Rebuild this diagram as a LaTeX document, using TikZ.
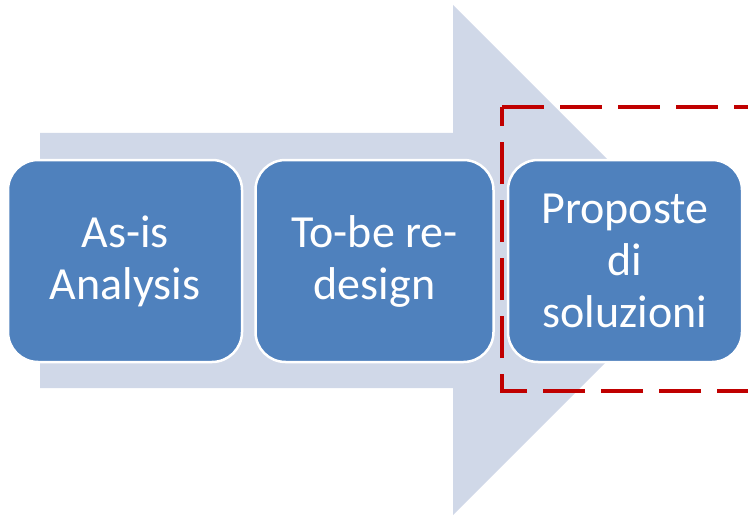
\documentclass[tikz,border=0pt]{standalone}
\usepackage{fontspec}
\setmainfont{Carlito}
\definecolor{arrowfill}{HTML}{D0D8E8}
\definecolor{boxfill}{HTML}{4F81BD}
\definecolor{darkred}{HTML}{C00000}
\tikzset{
  stagebox/.style={draw=white, line width=2.5pt, fill=boxfill, rounded corners=30pt,
    minimum width=234pt, minimum height=202pt, text=white, align=center,
    font=\fontsize{46}{52}\selectfont, inner sep=0pt},
  highlight/.style={draw=darkred, line width=4pt, dash pattern=on 42pt off 16pt}
}
\begin{document}
\begin{tikzpicture}[x=1pt,y=-1pt]
  \useasboundingbox (0,0) rectangle (748,519);
  \clip (0,0) rectangle (748,519);
  % background process arrow
  \fill[arrowfill] (40,133) -- (453,133) -- (453,5) -- (708,260) -- (453,515)
    -- (453,388) -- (40,388) -- cycle;
  % stages
  \node[stagebox] (asis) at (125,261) {As-is\\Analysis};
  \node[stagebox, minimum width=238pt] (tobe) at (374.5,261) {To-be re-\\design};
  \node[stagebox] (prop) at (625,261) {Proposte\\di\\soluzioni};
  % highlight frame around the last stage
  \draw[highlight] (502,107) -- (749.5,107) -- (749.5,391) -- (502,391) -- cycle;
\end{tikzpicture}
\end{document}
